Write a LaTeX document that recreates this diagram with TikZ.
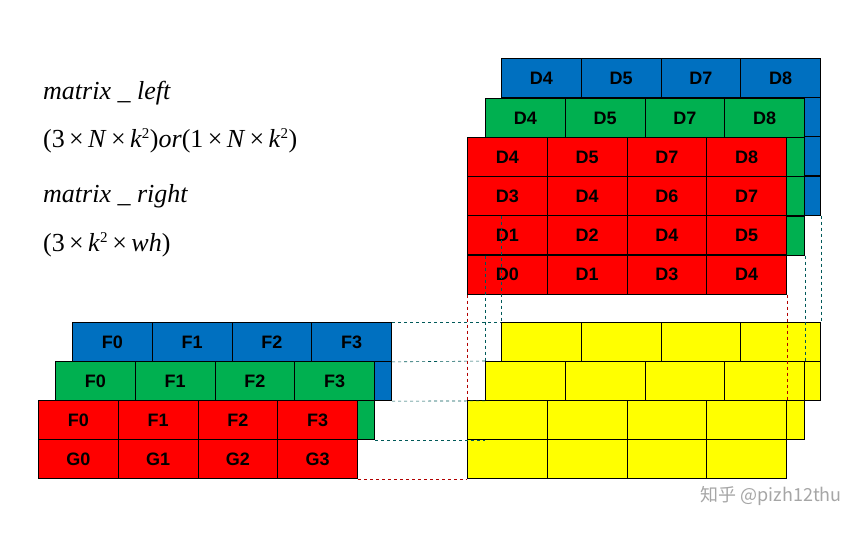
\documentclass[tikz,border=0pt]{standalone}
\usepackage{fontspec}
\setmainfont{Liberation Serif}
\newfontfamily\cellfont{Liberation Sans}
\newfontfamily\cjk{Noto Sans CJK SC}
\begin{document}
\begin{tikzpicture}[x=1pt,y=-1pt,
  cell/.style={draw=black,line width=0.9pt,minimum width=80pt,minimum height=39pt,inner sep=0pt,anchor=north west,font=\cellfont\bfseries\fontsize{18}{18}\selectfont},
  lbl/.style={anchor=west,inner sep=0pt,font=\fontsize{26}{26}\selectfont},
  dblue/.style={dashed,draw=teal!70!black,line width=0.6pt},
  dred/.style={dashed,draw=red!70!black,line width=0.6pt}]
\useasboundingbox (0,0) rectangle (863,534);
\definecolor{mblue}{RGB}{0,112,192}
\definecolor{mgreen}{RGB}{0,176,80}
\definecolor{myel}{RGB}{255,255,0}
% D grids: back layers show only their top row labels
\foreach \L/\xo/\yo/\c in {b/501/58/mblue,g/485/98/mgreen}{
  \foreach \t [count=\i from 0] in {D4,D5,D7,D8}{
    \node[cell,fill=\c] (d\L0\i) at ({\xo+79.75*\i},\yo) {\t};
  }
  \foreach \row in {1,2,3}{
    \foreach \i in {0,...,3}{
      \node[cell,fill=\c] (d\L\row\i) at ({\xo+79.75*\i},{\yo+39.25*\row}) {};
    }
  }
}
\foreach \row/\labs in {0/{D4,D5,D7,D8},1/{D3,D4,D6,D7},2/{D1,D2,D4,D5},3/{D0,D1,D3,D4}}{
  \foreach \t [count=\i from 0] in \labs {
    \node[cell,fill=red] (dr\row\i) at ({467+79.75*\i},{137+39.25*\row}) {\t};
  }
}
% yellow grids
\foreach \L/\xo/\yo in {b/501/322,g/485/361,r/467/400}{
  \foreach \row in {0,1}{
    \foreach \i in {0,...,3}{
      \node[cell,fill=myel] (y\L\row\i) at ({\xo+79.75*\i},{\yo+39.25*\row}) {};
    }
  }
}
% F grids (drawn back to front)
\foreach \L/\xo/\yo/\c in {b/72/322/mblue,g/55/361/mgreen}{
  \foreach \t [count=\i from 0] in {F0,F1,F2,F3}{
    \node[cell,fill=\c] (f\L0\i) at ({\xo+79.75*\i},\yo) {\t};
  }
  \foreach \i in {0,...,3}{
    \node[cell,fill=\c] (f\L1\i) at ({\xo+79.75*\i},{\yo+39.25}) {};
  }
}
\foreach \t [count=\i from 0] in {F0,F1,F2,F3}{
  \node[cell,fill=red] (fr0\i) at ({38+79.75*\i},400) {\t};
}
\foreach \t [count=\i from 0] in {G0,G1,G2,G3}{
  \node[cell,fill=red] (fr1\i) at ({38+79.75*\i},439.25) {\t};
}
% dashed connectors
\draw[dblue] (fb03.north east) -- (yb00.north west);
\draw[dblue] (fb03.south east) -- (yg00.north west);
\draw[dblue] (fb13.south east) -- (yg00.south west);
\draw[dblue] (fg13.south east) -- (yg10.south west);
\draw[dred] (fr13.south east) -- (yr10.south west);
\draw[dblue] (db30.south west) -- (yb00.north west);
\draw[dblue] (db33.south east) -- (yb03.north east);
\draw[dblue] (dg30.south west) -- (yg00.north west);
\draw[dblue] (dg33.south east) -- (yg03.north east);
\draw[dred] (dr30.south west) -- (yr00.north west);
\draw[dred] (dr33.south east) -- (yr03.north east);
% labels
\node[lbl] (t1) at (43,93) {\textit{matrix \_ left}};
\node[lbl] (t2) at (43,141) {(3\,×\,\textit{N}\,×\,\textit{k}\textsuperscript{\fontsize{15}{15}\selectfont 2})\textit{or}(1\,×\,\textit{N}\,×\,\textit{k}\textsuperscript{\fontsize{15}{15}\selectfont 2})};
\node[lbl] (t3) at (43,196) {\textit{matrix \_ right}};
\node[lbl] (t4) at (43,245) {(3\,×\,\textit{k}\textsuperscript{\fontsize{15}{15}\selectfont 2}\,×\,\textit{wh})};
\node[anchor=east,inner sep=0pt,text=gray!70,font=\cjk\fontsize{18}{18}\selectfont] (wm) at (842,496) {知乎 @pizh12thu};
\end{tikzpicture}
\end{document}
